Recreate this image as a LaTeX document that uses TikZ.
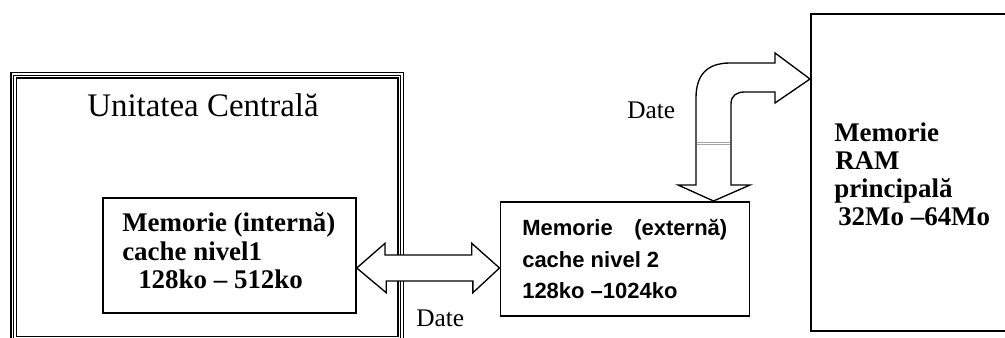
\documentclass[tikz,border=0pt]{standalone}
\usepackage{fontspec}
\setmainfont{Liberation Serif}
\newfontfamily\arialfont{Liberation Sans}
\begin{document}
\begin{tikzpicture}[x=0.75pt,y=-0.75pt,
  box/.style={draw=black,line width=1.3pt,fill=none},
  thickline/.style={draw=black,line width=1.3pt},
  thinline/.style={draw=black,line width=0.7pt},
  bigarrow/.style={draw=black,line width=1pt,fill=white,line join=miter},
  serifbold/.style={font=\fontsize{20.2}{24}\selectfont\bfseries,anchor=base west,inner sep=0pt},
  sansbold/.style={font=\arialfont\fontsize{16.5}{20}\selectfont\bfseries,anchor=base west,inner sep=0pt},
  datelbl/.style={font=\fontsize{19}{22}\selectfont,anchor=base west,inner sep=0pt}]
\useasboundingbox (0,0) rectangle (1005,338);
% outer triple-lined box (Unitatea Centrala)
\draw[thickline] (11,72.5) rectangle (403.5,342);
\draw[thinline] (13.8,75.3) rectangle (400.7,339.2);
\draw[thickline] (16.5,78) rectangle (398,336.5);
\node[font=\fontsize{24.7}{28}\selectfont,anchor=base west,inner sep=0pt] (uc) at (87,116.7) {Unitatea Central\u{a}};
% internal cache box
\node[box,minimum width=189.75pt,minimum height=86.25pt,anchor=north west,inner sep=0pt] (l1) at (102,197) {};
\node[serifbold] (l1a) at (122,231.7) {Memorie (intern\u{a})};
\node[serifbold] (l1b) at (122,260) {cache nivel1};
\node[serifbold] (l1c) at (138,288.3) {128ko – 512ko};
% external cache box
\node[box,minimum width=186.75pt,minimum height=85.5pt,anchor=north west,inner sep=0pt] (l2) at (499.5,201) {};
\node[sansbold] (l2a) at (522,235) {\makebox[153.75pt][s]{Memorie\hfill(extern\u{a})}};
\node[sansbold] (l2b) at (522,267) {cache nivel 2};
\node[sansbold] (l2c) at (522,298.3) {128ko –1024ko};
% RAM box
\node[box,minimum width=150pt,minimum height=237.75pt,anchor=north west,inner sep=0pt] (ram) at (810,13) {};
\node[serifbold] (r1) at (834,141.7) {Memorie};
\node[serifbold] (r2) at (835,169.3) {RAM};
\node[serifbold] (r3) at (834,197.3) {principal\u{a}};
\node[serifbold] (r4) at (838,225) {32Mo –64Mo};
% horizontal double arrow
\coordinate (hl) at (l1.east |- 0,268);
\coordinate (hr) at (l2.west |- 0,268);
\draw[bigarrow] (hl) -- ++(28.3,-24.7) -- ++(0,11.7) -- ++(86.7,0) -- ++(0,-11.7)
  -- (hr) -- ++(-26.6,24.7) -- ++(0,-11.7) -- ++(-86.7,0) -- ++(0,11.7) -- cycle;
\node[datelbl] (d1) at (416,326.7) {Date};
% curved arrow between L2 cache and RAM
\coordinate (vt) at (l2.north -| 713.5,0);
\coordinate (rt) at (ram.west |- 0,79);
\draw[bigarrow] (vt) -- (750,185) -- (731,185) -- (731,104)
  .. controls (731,95) and (737,92) .. (745,92) -- (775,92) -- (775,103) -- (rt)
  -- (775,53) -- (775,63) -- (730,63) .. controls (706,63) and (696,76) .. (696,98)
  -- (696,185) -- (678,185) -- cycle;
\draw[gray!70,line width=0.4pt] (696.7,142) -- (730.3,142) (696.7,144) -- (730.3,144);
\node[datelbl] (d2) at (627,119) {Date};
\end{tikzpicture}
\end{document}
